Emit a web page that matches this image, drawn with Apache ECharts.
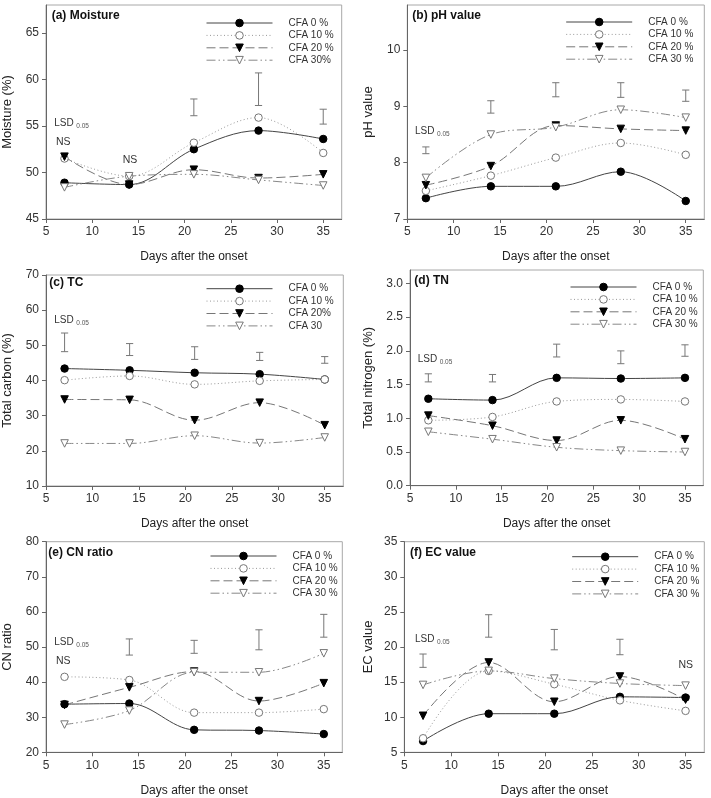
<!DOCTYPE html>
<html><head><meta charset="utf-8">
<script src="https://cdn.jsdelivr.net/npm/echarts@6/dist/echarts.min.js"></script>
<style>html,body{margin:0;padding:0;background:#fff}#c{width:711px;height:798px}</style>
</head><body><div id="c"></div>
<script>
// ---------- data ----------
const days = [7, 14, 21, 28, 35];
const seriesNames = ['CFA 0 %', 'CFA 10 %', 'CFA 20 %', 'CFA 30 %'];
const xTicks = [5, 10, 15, 20, 25, 30, 35];

// (a) Moisture (%)
const moistCFA0  = [48.9, 48.7, 52.5, 54.5, 53.6];
const moistCFA10 = [51.5, 49.6, 53.2, 55.9, 52.1];
const moistCFA20 = [51.7, 48.7, 50.3, 49.4, 49.8];
const moistCFA30 = [48.4, 49.6, 49.8, 49.2, 48.6];
const moistLsdDays = [21, 28, 35];
const moistLsdLow  = [56.1, 57.2, 55.2];
const moistLsdHigh = [57.9, 60.7, 56.8];
const moistTicks = [45, 50, 55, 60, 65];

// (b) pH value
const phCFA0  = [7.37, 7.58, 7.58, 7.84, 7.32];
const phCFA10 = [7.50, 7.77, 8.09, 8.35, 8.14];
const phCFA20 = [7.60, 7.94, 8.66, 8.60, 8.57];
const phCFA30 = [7.73, 8.50, 8.63, 8.94, 8.80];
const phLsdDays = [7, 14, 21, 28, 35];
const phLsdLow  = [8.16, 8.88, 9.17, 9.16, 9.09];
const phLsdHigh = [8.28, 9.10, 9.42, 9.42, 9.29];
const phTicks = [7, 8, 9, 10];

// (c) Total carbon (%)
const tcCFA0  = [43.4, 42.9, 42.2, 41.8, 40.3];
const tcCFA10 = [40.1, 41.3, 38.9, 39.9, 40.3];
const tcCFA20 = [34.6, 34.5, 28.7, 33.7, 27.3];
const tcCFA30 = [22.1, 22.1, 24.3, 22.2, 23.8];
const tcLsdDays = [7, 14, 21, 28, 35];
const tcLsdLow  = [48.2, 47.1, 46.0, 45.7, 44.9];
const tcLsdHigh = [53.5, 50.5, 49.6, 48.0, 46.8];
const tcTicks = [10, 20, 30, 40, 50, 60, 70];

// (d) Total nitrogen (%)
const tnCFA0  = [1.29, 1.27, 1.60, 1.59, 1.60];
const tnCFA10 = [0.97, 1.02, 1.25, 1.28, 1.25];
const tnCFA20 = [1.04, 0.89, 0.67, 0.97, 0.69];
const tnCFA30 = [0.80, 0.69, 0.57, 0.52, 0.50];
const tnLsdDays = [7, 14, 21, 28, 35];
const tnLsdLow  = [1.54, 1.54, 1.91, 1.81, 1.92];
const tnLsdHigh = [1.66, 1.65, 2.10, 2.00, 2.09];
const tnTicks = [0, 0.5, 1.0, 1.5, 2.0, 2.5, 3.0];

// (e) CN ratio
const cnCFA0  = [33.7, 33.9, 26.4, 26.2, 25.2];
const cnCFA10 = [41.5, 40.6, 31.3, 31.3, 32.3];
const cnCFA20 = [33.5, 38.5, 43.0, 34.6, 39.7];
const cnCFA30 = [27.9, 31.9, 42.8, 42.8, 48.2];
const cnLsdDays = [14, 21, 28, 35];
const cnLsdLow  = [47.7, 48.2, 49.2, 52.8];
const cnLsdHigh = [52.3, 51.9, 54.9, 59.3];
const cnTicks = [20, 30, 40, 50, 60, 70, 80];

// (f) EC value
const ecCFA0  = [6.6, 10.5, 10.5, 12.9, 12.8];
const ecCFA10 = [7.0, 16.6, 14.7, 12.4, 10.9];
const ecCFA20 = [10.2, 17.8, 12.2, 15.8, 12.5];
const ecCFA30 = [14.6, 16.6, 15.5, 14.8, 14.5];
const ecLsdDays = [7, 14, 21, 28];
const ecLsdLow  = [17.1, 21.4, 19.6, 18.9];
const ecLsdHigh = [19.0, 24.6, 22.5, 21.1];
const ecTicks = [5, 10, 15, 20, 25, 30, 35];

// ---------- layout / style ----------
const FONT = '"Liberation Sans", Arial, Helvetica, sans-serif';
const panels = [
  {grid:{left:45.7, top:5, width:296, height:214}, min:45, max:68, interval:5, ticks:moistTicks, dec:0,
   name:'Moisture (%)', gap:32, vals:[moistCFA0, moistCFA10, moistCFA20, moistCFA30],
   lsd:[moistLsdDays, moistLsdLow, moistLsdHigh], leg:{left:206, top:17}, legMap:{'CFA 30 %':'CFA 30%'},
   title:'(a) Moisture', tx:51.7, ty:15.7, lsdPos:[54.3, 123.3], ns:[[56, 141.7], [122.7, 160]]},
  {grid:{left:407.3, top:5, width:297, height:214}, min:7, max:10.8, interval:1, ticks:phTicks, dec:0,
   name:'pH value', gap:32, vals:[phCFA0, phCFA10, phCFA20, phCFA30],
   lsd:[phLsdDays, phLsdLow, phLsdHigh], leg:{left:565.7, top:16}, legMap:{},
   title:'(b) pH value', tx:412.3, ty:15.7, lsdPos:[415, 131], ns:[]},
  {grid:{left:45.7, top:275, width:297.6, height:211}, min:10, max:70, interval:10, ticks:tcTicks, dec:0,
   name:'Total carbon (%)', gap:32, vals:[tcCFA0, tcCFA10, tcCFA20, tcCFA30],
   lsd:[tcLsdDays, tcLsdLow, tcLsdHigh], leg:{left:206, top:282.7}, legMap:{'CFA 20 %':'CFA 20%', 'CFA 30 %':'CFA 30'},
   title:'(c) TC', tx:49.3, ty:282.7, lsdPos:[54.3, 320.7], ns:[]},
  {grid:{left:410, top:270, width:293.3, height:215.7}, min:0, max:3.2, interval:0.5, ticks:tnTicks, dec:1,
   name:'Total nitrogen (%)', gap:35, vals:[tnCFA0, tnCFA10, tnCFA20, tnCFA30],
   lsd:[tnLsdDays, tnLsdLow, tnLsdHigh], leg:{left:570, top:281}, legMap:{},
   title:'(d) TN', tx:414.3, ty:281, lsdPos:[417.7, 359.3], ns:[]},
  {grid:{left:45, top:541.7, width:297.3, height:210.6}, min:20, max:80, interval:10, ticks:cnTicks, dec:0,
   name:'CN ratio', gap:32, vals:[cnCFA0, cnCFA10, cnCFA20, cnCFA30],
   lsd:[cnLsdDays, cnLsdLow, cnLsdHigh], leg:{left:210, top:550}, legMap:{},
   title:'(e) CN ratio', tx:48.3, ty:552.3, lsdPos:[54.3, 642], ns:[[56, 660.7]]},
  {grid:{left:404.3, top:541.7, width:300, height:210.6}, min:5, max:35, interval:5, ticks:ecTicks, dec:0,
   name:'EC value', gap:29, vals:[ecCFA0, ecCFA10, ecCFA20, ecCFA30],
   lsd:[ecLsdDays, ecLsdLow, ecLsdHigh], leg:{left:571.7, top:550.7}, legMap:{},
   title:'(f) EC value', tx:410, ty:552.3, lsdPos:[415, 639], ns:[[678.5, 665]]}
];

const sStyles = [
  {line:{color:'#444', width:1, type:'solid'}, item:{color:'#000', borderColor:'#000', borderWidth:1}, symbol:'circle', rot:0, size:7.5},
  {line:{color:'#999', width:1, type:[1, 2.5]}, item:{color:'#fff', borderColor:'#777', borderWidth:1}, symbol:'circle', rot:0, size:7.5},
  {line:{color:'#777', width:1, type:[9, 4]}, item:{color:'#000', borderColor:'#000', borderWidth:1}, symbol:'triangle', rot:180, size:7.5},
  {line:{color:'#888', width:1, type:[9, 3, 1.5, 3, 1.5, 3]}, item:{color:'#fff', borderColor:'#777', borderWidth:1}, symbol:'triangle', rot:180, size:7.5}
];

const grids = [], xAxes = [], yAxes = [], series = [], legends = [], graphics = [];
const axisTxt = {color:'#333', fontSize:12, fontFamily:FONT};

panels.forEach((p, i) => {
  grids.push(Object.assign({show:true, borderColor:'#a8a8a8', borderWidth:1, containLabel:false}, p.grid));
  xAxes.push({
    type:'value', gridIndex:i, min:5, max:37, interval:5,
    name:'Days after the onset', nameLocation:'middle', nameGap:32,
    nameTextStyle:{color:'#222', fontSize:12, fontFamily:FONT},
    axisLine:{show:true, lineStyle:{color:'#666', width:1}},
    axisTick:{show:true, inside:false, length:4, lineStyle:{color:'#666'}, customValues:xTicks},
    axisLabel:Object.assign({margin:7, customValues:xTicks}, axisTxt),
    splitLine:{show:false}
  });
  yAxes.push({
    type:'value', gridIndex:i, min:p.min, max:p.max, interval:p.interval,
    name:p.name, nameLocation:'middle', nameGap:p.gap, nameRotate:90,
    nameTextStyle:{color:'#222', fontSize:13, fontFamily:FONT},
    axisLine:{show:true, lineStyle:{color:'#666', width:1}},
    axisTick:{show:true, inside:false, length:4, lineStyle:{color:'#666'}, customValues:p.ticks},
    axisLabel:Object.assign({margin:7, customValues:p.ticks, formatter:(v) => Number(v).toFixed(p.dec)}, axisTxt),
    splitLine:{show:false}
  });
  p.vals.forEach((arr, k) => {
    const st = sStyles[k];
    series.push({
      type:'line', name:seriesNames[k], xAxisIndex:i, yAxisIndex:i,
      data:days.map((d, j) => [d, arr[j]]),
      smooth:0.35, symbol:st.symbol, symbolSize:st.size, symbolRotate:st.rot,
      lineStyle:st.line, itemStyle:st.item, z:2, silent:true,
      emphasis:{disabled:true}
    });
  });
  const [ld, ll, lh] = p.lsd;
  series.push({
    type:'custom', xAxisIndex:i, yAxisIndex:i, silent:true, clip:false,
    data:ld.map((d, j) => [d, ll[j], lh[j]]),
    encode:{x:0, y:[1, 2]},
    renderItem:(params, api) => {
      const x = api.value(0), lo = api.value(1), hi = api.value(2);
      const a = api.coord([x, hi]), b = api.coord([x, lo]);
      const w = 3.6;
      const st = {stroke:'#777', lineWidth:1, fill:null};
      return {type:'group', children:[
        {type:'line', shape:{x1:a[0], y1:a[1], x2:b[0], y2:b[1]}, style:st},
        {type:'line', shape:{x1:a[0] - w, y1:a[1], x2:a[0] + w, y2:a[1]}, style:st},
        {type:'line', shape:{x1:b[0] - w, y1:b[1], x2:b[0] + w, y2:b[1]}, style:st}
      ]};
    }
  });
  const map = p.legMap;
  legends.push({
    left:p.leg.left, top:p.leg.top + 1, orient:'vertical', padding:0,
    itemWidth:66, itemHeight:9.5, itemGap:2.4, selectedMode:false,
    data:seriesNames,
    lineStyle:{width:1},
    itemStyle:{borderWidth:1},
    textStyle:{fontSize:10, color:'#333', fontFamily:FONT},
    formatter:(n) => '    ' + (map[n] || n)
  });
  graphics.push({type:'text', x:p.tx, y:p.ty, silent:true,
    style:{text:p.title, fontSize:12, fontWeight:'bold', fontFamily:FONT, fill:'#111', verticalAlign:'middle'}});
  graphics.push({type:'text', x:p.lsdPos[0], y:p.lsdPos[1], silent:true,
    style:{text:'LSD', fontSize:10, fontFamily:FONT, fill:'#333', verticalAlign:'middle'}});
  graphics.push({type:'text', x:p.lsdPos[0] + 22, y:p.lsdPos[1] + 3, silent:true,
    style:{text:'0.05', fontSize:6.5, fontFamily:FONT, fill:'#555', verticalAlign:'middle'}});
  p.ns.forEach(([nx, ny]) => {
    graphics.push({type:'text', x:nx, y:ny, silent:true,
      style:{text:'NS', fontSize:10.5, fontFamily:FONT, fill:'#333', verticalAlign:'middle'}});
  });
});

const chart = echarts.init(document.getElementById('c'), null, {renderer:'canvas'});
chart.setOption({
  backgroundColor:'#fff',
  animation:false,
  grid:grids, xAxis:xAxes, yAxis:yAxes, series:series, legend:legends,
  graphic:{elements:graphics}
});
</script>
</body></html>
